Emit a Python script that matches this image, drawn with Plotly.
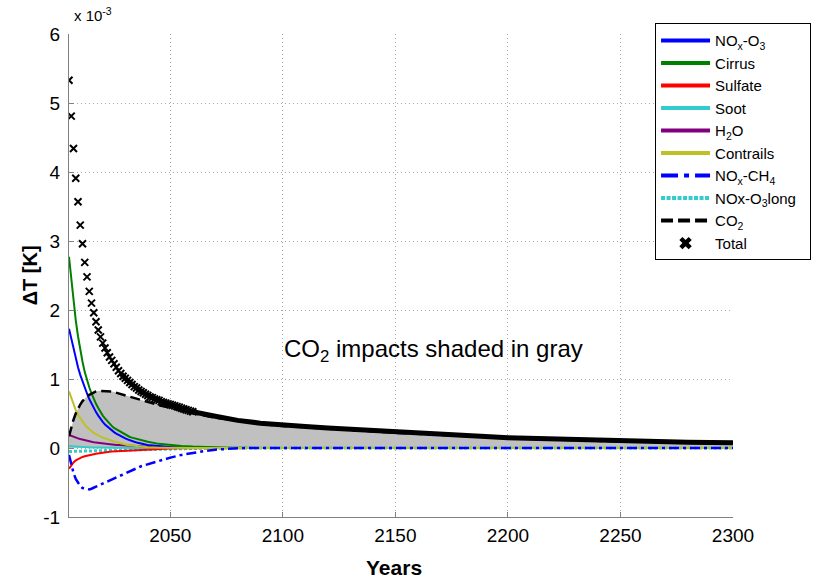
import plotly.graph_objects as go

# ---------------- data (values in units of 1e-3 K) ----------------
years_c = list(range(2005, 2041)) + list(range(2045, 2101, 5)) + [2150, 2200, 2250, 2300]

nox_o3 = [1.73, 1.58, 1.44, 1.30, 1.17, 1.06, 0.96, 0.87, 0.79, 0.71,
          0.64, 0.58, 0.52, 0.47, 0.42, 0.38, 0.34, 0.31, 0.28, 0.25,
          0.23, 0.21, 0.19, 0.17, 0.155, 0.14, 0.125, 0.11, 0.10, 0.09,
          0.08, 0.07, 0.065, 0.06, 0.05, 0.045,
          0.025, 0.015, 0.008, 0.004, 0.002, 0.0, 0.0, 0.0, 0.0, 0.0, 0.0, 0.0,
          0.0, 0.0, 0.0, 0.0]
cirrus = [2.77, 2.45, 2.15, 1.85, 1.62, 1.42, 1.25, 1.10, 0.98, 0.88,
          0.79, 0.71, 0.64, 0.58, 0.52, 0.47, 0.43, 0.39, 0.35, 0.32,
          0.29, 0.27, 0.25, 0.23, 0.21, 0.19, 0.18, 0.16, 0.15, 0.14,
          0.13, 0.12, 0.11, 0.10, 0.095, 0.09,
          0.06, 0.04, 0.03, 0.02, 0.012, 0.008, 0.004, 0.002, 0.0, 0.0, 0.0, 0.0,
          0.0, 0.0, 0.0, 0.0]
sulfate = [-0.30, -0.25, -0.21, -0.18, -0.16, -0.145, -0.13, -0.12, -0.11, -0.10,
           -0.095, -0.09, -0.082, -0.076, -0.07, -0.066, -0.062, -0.058, -0.055, -0.052,
           -0.05, -0.048, -0.046, -0.044, -0.042, -0.04, -0.038, -0.036, -0.034, -0.032,
           -0.03, -0.028, -0.026, -0.024, -0.022, -0.02,
           -0.012, -0.007, -0.004, -0.002, -0.001, 0.0, 0.0, 0.0, 0.0, 0.0, 0.0, 0.0,
           0.0, 0.0, 0.0, 0.0]
soot = [0.03, 0.027, 0.024, 0.021, 0.019, 0.017, 0.015, 0.013, 0.011, 0.01,
        0.009, 0.008, 0.007, 0.006, 0.005, 0.004, 0.004, 0.003, 0.003, 0.002,
        0.002, 0.002, 0.001, 0.001, 0.001, 0.001, 0.0, 0.0, 0.0, 0.0,
        0.0, 0.0, 0.0, 0.0, 0.0, 0.0,
        0.0, 0.0, 0.0, 0.0, 0.0, 0.0, 0.0, 0.0, 0.0, 0.0, 0.0, 0.0,
        0.0, 0.0, 0.0, 0.0]
h2o = [0.19, 0.175, 0.16, 0.15, 0.14, 0.13, 0.12, 0.11, 0.10, 0.095,
       0.09, 0.085, 0.08, 0.075, 0.07, 0.065, 0.06, 0.057, 0.054, 0.051,
       0.048, 0.045, 0.043, 0.041, 0.039, 0.037, 0.035, 0.033, 0.031, 0.029,
       0.027, 0.025, 0.023, 0.021, 0.019, 0.018,
       0.012, 0.008, 0.005, 0.003, 0.002, 0.001, 0.0, 0.0, 0.0, 0.0, 0.0, 0.0,
       0.0, 0.0, 0.0, 0.0]
contrails = [0.82, 0.72, 0.63, 0.55, 0.48, 0.43, 0.38, 0.34, 0.30, 0.27,
             0.24, 0.22, 0.20, 0.18, 0.16, 0.15, 0.14, 0.125, 0.115, 0.105,
             0.095, 0.085, 0.075, 0.065, 0.055, 0.05, 0.045, 0.04, 0.035, 0.03,
             0.025, 0.02, 0.018, 0.015, 0.012, 0.01,
             0.005, 0.0, 0.0, 0.0, 0.0, 0.0, 0.0, 0.0, 0.0, 0.0, 0.0, 0.0,
             0.0, 0.0, 0.0, 0.0]
nox_ch4 = [-0.10, -0.25, -0.36, -0.45, -0.51, -0.55, -0.58, -0.59, -0.60, -0.60,
           -0.59, -0.58, -0.56, -0.545, -0.53, -0.51, -0.495, -0.48, -0.465, -0.45,
           -0.435, -0.42, -0.405, -0.39, -0.375, -0.36, -0.345, -0.33, -0.315, -0.30,
           -0.29, -0.28, -0.265, -0.255, -0.245, -0.235,
           -0.185, -0.14, -0.10, -0.07, -0.045, -0.025, -0.01, -0.003, 0.0, 0.0, 0.0, 0.0,
           0.0, 0.0, 0.0, 0.0]
nox_o3long = [-0.05, -0.05, -0.05, -0.05, -0.049, -0.048, -0.047, -0.046, -0.045, -0.044,
              -0.043, -0.042, -0.041, -0.040, -0.039, -0.038, -0.037, -0.036, -0.035, -0.034,
              -0.033, -0.032, -0.031, -0.030, -0.029, -0.028, -0.027, -0.026, -0.025, -0.024,
              -0.023, -0.022, -0.021, -0.020, -0.019, -0.018,
              -0.014, -0.010, -0.007, -0.005, -0.003, -0.002, -0.001, 0.0, 0.0, 0.0, 0.0, 0.0,
              0.0, 0.0, 0.0, 0.0]
co2 = [0.17, 0.30, 0.41, 0.50, 0.57, 0.63, 0.68, 0.72, 0.75, 0.77,
       0.79, 0.81, 0.82, 0.83, 0.83, 0.83, 0.83, 0.83, 0.82, 0.82,
       0.81, 0.80, 0.79, 0.78, 0.77, 0.76, 0.75, 0.74, 0.73, 0.72,
       0.71, 0.70, 0.69, 0.68, 0.67, 0.66,
       0.62, 0.58, 0.54, 0.50, 0.47, 0.44, 0.415, 0.39, 0.37, 0.35, 0.335, 0.32,
       0.22, 0.145, 0.095, 0.07]

years_t = list(range(2005, 2061)) + list(range(2070, 2301, 10))
total = [5.33, 4.81, 4.34, 3.91, 3.57, 3.23, 2.96, 2.69, 2.48, 2.27,
         2.10, 1.96, 1.83, 1.71, 1.61, 1.52, 1.45, 1.38, 1.32, 1.27,
         1.22, 1.17, 1.12, 1.08, 1.04, 1.01, 0.98, 0.95, 0.92, 0.89,
         0.87, 0.84, 0.82, 0.80, 0.78, 0.76, 0.74, 0.73, 0.71, 0.70,
         0.69, 0.67, 0.66, 0.65, 0.64, 0.63, 0.62, 0.61, 0.60, 0.59,
         0.575, 0.565, 0.555, 0.545, 0.535, 0.525,
         0.46, 0.40, 0.36, 0.33, 0.31, 0.29, 0.27, 0.25, 0.23, 0.21,
         0.195, 0.18, 0.165, 0.15, 0.14, 0.13, 0.12, 0.11, 0.10, 0.095,
         0.09, 0.085, 0.08, 0.075]

x_ticks = [2050, 2100, 2150, 2200, 2250, 2300]
y_ticks = [-1, 0, 1, 2, 3, 4, 5, 6]
y_tick_labels = ["-1", "0", "1", "2", "3", "4", "5", "6"]

FONT = "Arial, Liberation Sans, sans-serif"

# name, values, colour, plot dash, legend dash, plot width
series = {
    "nox_o3": ("NO<sub>x</sub>-O<sub>3</sub>", nox_o3, "#0000ff", "solid", "solid", 2),
    "cirrus": ("Cirrus", cirrus, "#008000", "solid", "solid", 2),
    "sulfate": ("Sulfate", sulfate, "#ff0000", "solid", "solid", 2),
    "soot": ("Soot", soot, "#33cccc", "solid", "solid", 2),
    "h2o": ("H<sub>2</sub>O", h2o, "#800080", "solid", "solid", 2),
    "contrails": ("Contrails", contrails, "#bfbf26", "solid", "solid", 2),
    "nox_ch4": ("NO<sub>x</sub>-CH<sub>4</sub>", nox_ch4, "#0000ff", "10px,4px,3px,4px", "17px,6px,5px,6px", 2.5),
    "nox_o3long": ("NOx-O<sub>3</sub>long&nbsp;&nbsp;", nox_o3long, "#33cccc", "3px,2px", "4px,1.5px", 3),
}
legend_order = ["nox_o3", "cirrus", "sulfate", "soot", "h2o", "contrails", "nox_ch4", "nox_o3long"]
draw_order = ["soot", "nox_o3long", "sulfate", "h2o", "nox_o3", "cirrus", "contrails", "nox_ch4"]

fig = go.Figure()

# gray shading under CO2
fig.add_trace(go.Scatter(x=years_c, y=co2, mode="lines", fill="tozeroy",
                         fillcolor="rgb(192,192,192)", line=dict(width=0),
                         showlegend=False, hoverinfo="skip"))

for key in draw_order:
    name, vals, color, dash, _, w = series[key]
    fig.add_trace(go.Scatter(x=years_c, y=vals, mode="lines",
                             line=dict(color=color, width=w, dash=dash),
                             showlegend=False, name=name))

fig.add_trace(go.Scatter(x=years_c, y=co2, mode="lines",
                         line=dict(color="black", width=2.5, dash="10px,5px"),
                         showlegend=False, name="CO2"))

i0 = years_t.index(2028)
i1 = years_t.index(2060) + 1
fig.add_trace(go.Scatter(x=years_t[i0:], y=total[i0:], mode="lines",
                         line=dict(color="black", width=5),
                         showlegend=False, hoverinfo="skip"))
fig.add_trace(go.Scatter(x=years_t[:i1], y=total[:i1], mode="markers",
                         marker=dict(symbol="x-thin", size=7, color="black",
                                     line=dict(color="black", width=2)),
                         showlegend=False, name="Total"))

# legend entries
for key in legend_order:
    name, vals, color, _, ldash, _w = series[key]
    fig.add_trace(go.Scatter(x=[None], y=[None], mode="lines", name=name,
                             line=dict(color=color, width=4, dash=ldash)))
fig.add_trace(go.Scatter(x=[None], y=[None], mode="lines", name="CO<sub>2</sub>",
                         line=dict(color="black", width=4, dash="12px,5px")))
fig.add_trace(go.Scatter(x=[None], y=[None], mode="markers", name="Total",
                         marker=dict(symbol="x", size=11, color="black")))

GRID = dict(showgrid=True, gridcolor="#a8a8a8", griddash="1px,3px", gridwidth=1)

fig.update_layout(
    width=814, height=579,
    margin=dict(l=69, r=81, t=34, b=62, autoexpand=False),
    paper_bgcolor="white", plot_bgcolor="white",
    font=dict(family=FONT, color="black"),
    showlegend=True,
    legend=dict(x=0.8826, y=1.022, xanchor="left", yanchor="top",
                bgcolor="white", bordercolor="black", borderwidth=1,
                font=dict(size=15, family=FONT), tracegroupgap=0,
                itemwidth=49),
    xaxis=dict(range=[2005, 2300], tickvals=x_ticks, ticks="inside", ticklen=5,
               tickcolor="#808080", showline=True, linecolor="#808080",
               zeroline=False, tickfont=dict(size=19, family=FONT),
               ticklabelstandoff=1, **GRID),
    yaxis=dict(range=[-1, 6], tickvals=y_ticks, ticktext=y_tick_labels,
               ticks="inside", ticklen=5,
               tickcolor="#808080", showline=True, linecolor="#808080",
               zeroline=False, tickfont=dict(size=19, family=FONT),
               ticklabelstandoff=4, **GRID),
    annotations=[
        dict(text="x 10<sup>-3</sup>", xref="paper", yref="paper", x=0.004, y=1.04,
             xanchor="left", yanchor="middle", showarrow=False,
             font=dict(size=15, family=FONT)),
        dict(text="<b>ΔT [K]</b>", xref="paper", yref="paper", x=-0.059, y=0.5,
             xanchor="center", yanchor="middle", textangle=-90, showarrow=False,
             font=dict(size=20, family=FONT)),
        dict(text="<b>Years</b>", xref="paper", yref="paper", x=0.49, y=-0.105,
             xanchor="center", yanchor="middle", showarrow=False,
             font=dict(size=21, family=FONT)),
        dict(text="CO<sub>2</sub> impacts shaded in gray", xref="x", yref="y",
             x=2167, y=1.42, xanchor="center", yanchor="middle", showarrow=False,
             font=dict(size=24, family=FONT)),
    ],
)

fig.write_html("out.html")
